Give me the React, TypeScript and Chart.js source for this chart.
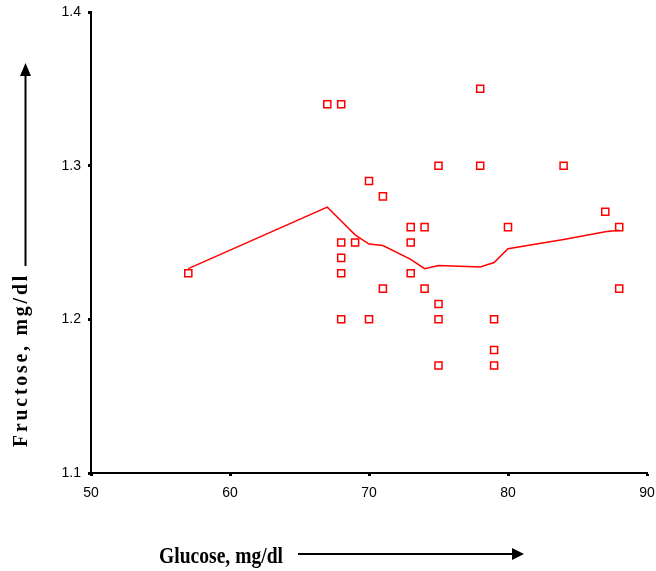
import React, { useEffect, useRef } from "react";
import { Chart, registerables } from "chart.js";

Chart.register(...registerables);

const scatterX = [57, 67, 68, 70, 71, 68, 69, 68, 68, 68, 70, 73, 74, 73, 73, 71, 74, 75, 75, 75, 75, 78, 78, 79, 79, 79, 80, 84, 87, 88, 88];
const scatterY = [1.23, 1.34, 1.34, 1.29, 1.28, 1.25, 1.25, 1.24, 1.23, 1.2, 1.2, 1.26, 1.26, 1.25, 1.23, 1.22, 1.22, 1.21, 1.2, 1.17, 1.3, 1.3, 1.35, 1.2, 1.18, 1.17, 1.26, 1.3, 1.27, 1.26, 1.22];

const fitX = [57, 67, 68, 69, 70, 71, 73, 74, 75, 78, 79, 80, 84, 87, 88];
const fitY = [1.233, 1.273, 1.264, 1.255, 1.249, 1.248, 1.239, 1.233, 1.235, 1.234, 1.237, 1.246, 1.252, 1.257, 1.258];

const xTitle = "Glucose, mg/dl";
const yTitle = "Fructose, mg/dl";
const xMin = 50, xMax = 90, xStep = 10;
const yMin = 1.1, yMax = 1.4, yStep = 0.1;

const titlesPlugin = {
  id: "titlesArrows",
  afterDraw(chart: any) {
    const ctx = chart.ctx as CanvasRenderingContext2D;
    ctx.save();
    ctx.fillStyle = "#000";
    ctx.strokeStyle = "#000";
    // X title
    ctx.save();
    ctx.font = "bold 24px 'Liberation Serif', 'Times New Roman', serif";
    ctx.textBaseline = "alphabetic";
    ctx.textAlign = "left";
    ctx.translate(159, 563);
    const w = ctx.measureText(xTitle).width;
    ctx.scale(124 / w, 1);
    ctx.fillText(xTitle, 0, 0);
    ctx.restore();
    // X arrow
    ctx.lineWidth = 2;
    ctx.beginPath();
    ctx.moveTo(298, 554);
    ctx.lineTo(514, 554);
    ctx.stroke();
    ctx.beginPath();
    ctx.moveTo(524, 554);
    ctx.lineTo(512, 548);
    ctx.lineTo(512, 560);
    ctx.closePath();
    ctx.fill();
    // Y title
    ctx.save();
    ctx.font = "bold 21px 'Liberation Serif', 'Times New Roman', serif";
    (ctx as any).letterSpacing = "3px";
    ctx.textBaseline = "alphabetic";
    ctx.textAlign = "left";
    ctx.translate(27, 447);
    ctx.rotate(-Math.PI / 2);
    const wy = ctx.measureText(yTitle).width;
    ctx.scale(174 / wy, 1);
    ctx.fillText(yTitle, 0, 0);
    ctx.restore();
    // Y arrow
    ctx.lineWidth = 2;
    ctx.beginPath();
    ctx.moveTo(25.5, 266);
    ctx.lineTo(25.5, 74);
    ctx.stroke();
    ctx.beginPath();
    ctx.moveTo(25.5, 63);
    ctx.lineTo(20, 76);
    ctx.lineTo(31, 76);
    ctx.closePath();
    ctx.fill();
    ctx.restore();
  },
};

export default function App() {
  const ref = useRef<HTMLCanvasElement>(null);
  useEffect(() => {
    const canvas = ref.current;
    if (!canvas) return;
    const tickFont = { family: "'Liberation Sans', Arial, sans-serif", size: 14 };
    const chart = new Chart(canvas, {
      type: "scatter",
      data: {
        datasets: [
          {
            type: "line",
            data: fitX.map((x, i) => ({ x, y: fitY[i] })),
            borderColor: "#ff0000",
            borderWidth: 1.5,
            pointRadius: 0,
            tension: 0,
            fill: false,
          } as any,
          {
            data: scatterX.map((x, i) => ({ x, y: scatterY[i] })),
            pointStyle: "rect",
            pointRadius: 5,
            borderColor: "#ff0000",
            backgroundColor: "#ffffff",
            borderWidth: 1.5,
            showLine: false,
          },
        ],
      },
      options: {
        animation: false,
        responsive: false,
        maintainAspectRatio: false,
        layout: { padding: { top: 12, right: 9, left: 0, bottom: 0 } },
        plugins: { legend: { display: false }, tooltip: { enabled: false } },
        scales: {
          x: {
            type: "linear",
            min: xMin,
            max: xMax,
            ticks: { stepSize: xStep, font: tickFont, color: "#000", padding: 9, maxRotation: 0 },
            grid: { drawOnChartArea: false, drawTicks: true, tickLength: 3, tickWidth: 3, color: "#000" },
            border: { display: true, color: "#000", width: 2 },
            afterFit: (s: any) => { s.height = 98; s.paddingLeft = 0; s.paddingRight = 0; },
          },
          y: {
            type: "linear",
            min: yMin,
            max: yMax,
            ticks: {
              stepSize: yStep,
              font: tickFont,
              color: "#000",
              padding: 7,
              callback: (v: any) => Number(v).toFixed(1),
            },
            grid: { drawOnChartArea: false, drawTicks: true, tickLength: 3, tickWidth: 3, color: "#000" },
            border: { display: true, color: "#000", width: 2 },
            afterFit: (s: any) => { s.width = 91; s.paddingTop = 0; s.paddingBottom = 0; },
          },
        },
      },
      plugins: [titlesPlugin],
    });
    return () => chart.destroy();
  }, []);
  return (
    <div style={{ position: "fixed", left: 0, top: 0, width: 656, height: 571, background: "#fff" }}>
      <canvas ref={ref} width={656} height={571} style={{ width: 656, height: 571, display: "block" }} />
    </div>
  );
}
